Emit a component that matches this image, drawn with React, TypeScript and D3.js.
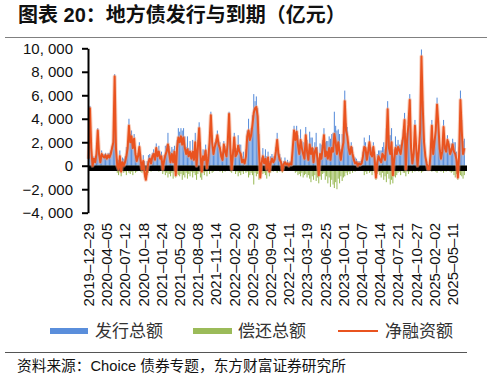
import React, { useEffect, useRef } from 'react'
import * as d3 from 'd3'

const START_WEEK = '2019-12-29'

// 净融资额 (亿元), weekly
const netFinancing = [
  600, 4900, 1500, 0, 600, 300, 1000, 3000, 1000, 300, 1000, 800, 700, 900,
  600, 900, 700, 1000, 1500, 2000, 7600, 1500, 0, -300, 800, -500, 300, 0,
  300, 800, 1500, 3400, 2000, 2500, 1500, 2300, 1000, 400, 800, 1600, 500, -300,
  400, -600, -1200, -400, 300, 600, 200, 800, 1000, 500, 1500, 800, 1200, 600,
  800, -300, 400, 900, 1200, 1800, 1000, 300, 1000, 300, 1200, -800, 1500, 2400,
  2000, 2500, 1800, 2400, 1500, 1000, 1400, 800, 1200, 600, 1200, 500, 2000, 0,
  1500, 3200, 1000, -500, 800, 500, 1300, -200, 600, 2000, 4300, 2000, 1000, 1600,
  2000, 2600, 1800, 1500, 800, 500, 1800, 1200, 800, 2000, 4400, 1500, -300, 1000,
  2400, 800, 1000, 1700, 1200, 1000, 300, 500, 200, 800, 2500, 3000, 2200, 2600,
  3500, 4500, 4900, 5000, 4200, 1500, -1000, 200, 800, 200, 600, -300, 700, -500,
  200, 600, 300, 500, 1200, 2200, 1000, 500, 300, -400, 100, 300, 100, 200,
  0, 200, 100, 1500, 3000, 2200, 2900, 1800, 1000, 2200, 1500, 1000, 600, 2600,
  1200, 500, 1800, 1000, 1500, 300, 1200, 1500, 600, -800, 1000, 600, 1500, 2600,
  800, 1200, 600, 1500, 500, 1500, 1200, 2700, 2000, 1000, 2000, 1200, 500, 1400,
  2000, 5500, 3000, 2500, 1500, 1000, 1600, 1000, 500, 200, 300, 0, 200, 100,
  200, 800, 1600, 1500, 500, 1200, 2000, 1000, 800, 1600, 600, -1000, 300, 800,
  500, 300, 1000, 800, 500, 1800, 4800, 1500, 1000, 2000, -800, 500, 1500, 1000,
  1600, 1300, 1000, 1800, 2500, 3900, -300, 2300, 3500, 5600, 1500, 200, 1000, 3400,
  1500, 0, 1300, 3000, 9300, 5000, 2000, 800, 200, -300, -300, 1000, 3400, 1000,
  2000, 3000, 5200, 3500, 1500, 600, 1200, 3300, 1500, 1200, 2200, 1800, 1000, 1300,
  1800, 1200, 1000, 500, -1000, 1000, 5600, 3000, 1000, 1500,
]

// 偿还总额 (亿元), drawn below zero
const repayment = [
  100, 200, 100, 300, 200, 100, 300, 200, 100, 200, 300, 200, 300, 200,
  300, 200, 400, 300, 200, 300, 200, 400, 600, 800, 500, 900, 400, 600,
  500, 800, 400, 600, 700, 500, 800, 400, 600, 500, 300, 400, 500, 600,
  500, 1000, 1200, 800, 600, 400, 500, 300, 400, 300, 400, 300, 500, 400,
  400, 700, 500, 800, 600, 1000, 700, 900, 600, 1100, 500, 1000, 700, 800,
  900, 700, 1200, 800, 1000, 600, 1100, 700, 900, 500, 1000, 600, 800, 1200,
  700, 500, 1000, 1200, 600, 800, 500, 900, 400, 700, 300, 600, 500, 400,
  300, 400, 300, 500, 400, 600, 300, 500, 400, 300, 200, 500, 600, 400,
  400, 700, 500, 900, 600, 800, 500, 700, 400, 600, 500, 1000, 800, 600,
  800, 1600, 600, 900, 700, 1200, 1000, 500, 700, 600, 800, 1100, 500, 900,
  600, 400, 500, 300, 400, 600, 300, 500, 400, 600, 300, 400, 200, 300,
  300, 200, 400, 300, 400, 600, 500, 800, 700, 900, 600, 1000, 800, 700,
  1000, 800, 1100, 1400, 900, 1200, 800, 1300, 1000, 1500, 900, 1200, 700, 600,
  1200, 900, 1500, 1000, 1800, 1200, 1600, 1900, 1400, 2000, 1100, 1500, 900, 1300,
  1000, 900, 600, 800, 500, 700, 400, 600, 300, 500, 300, 400, 200, 300,
  300, 400, 800, 500, 700, 400, 600, 500, 800, 400, 600, 1200, 700, 500,
  800, 1000, 600, 1200, 900, 1400, 700, 1100, 1600, 1200, 1500, 900, 1000, 800,
  600, 500, 800, 400, 600, 600, 900, 500, 700, 500, 400, 600, 300, 500,
  400, 300, 500, 400, 600, 500, 300, 400, 200, 300, 400, 300, 500, 400,
  300, 500, 600, 400, 300, 500, 400, 600, 300, 500, 400, 300, 500, 600,
  500, 800, 1000, 700, 1200, 600, 800, 900, 1100, 800,
]

// 发行总额 (亿元)
const issuance = [
  700, 5100, 1600, 300, 800, 400, 1300, 3200, 1100, 500, 1300, 1000, 1000, 1100,
  900, 1100, 1100, 1300, 1700, 2300, 7800, 1900, 600, 500, 1300, 400, 700, 600,
  800, 1600, 1900, 4000, 2700, 3000, 2300, 2700, 1600, 900, 1100, 2000, 1000, 300,
  900, 400, 0, 400, 900, 1000, 700, 1100, 1400, 800, 1900, 1100, 1700, 1000,
  1200, 400, 900, 1700, 1800, 2800, 1700, 1200, 1600, 1400, 1700, 200, 2200, 3200,
  2900, 3200, 3000, 3200, 2500, 1600, 2500, 1500, 2100, 1100, 2200, 1100, 2800, 1200,
  2200, 3700, 2000, 700, 1400, 1300, 1800, 700, 1000, 2700, 4600, 2600, 1500, 2000,
  2300, 3000, 2100, 2000, 1200, 1100, 2100, 1700, 1200, 2300, 4600, 2000, 300, 1400,
  2800, 1500, 1500, 2600, 1800, 1800, 800, 1200, 600, 1400, 3000, 4000, 3000, 3200,
  4300, 6100, 5500, 5900, 4900, 2700, 0, 700, 1500, 800, 1400, 800, 1200, 400,
  800, 1000, 800, 800, 1600, 2800, 1300, 1000, 700, 200, 400, 700, 300, 500,
  300, 400, 500, 1800, 3400, 2800, 3400, 2600, 1700, 3100, 2100, 2000, 1400, 3300,
  2200, 1300, 2900, 2400, 2400, 1500, 2000, 2800, 1600, 700, 1900, 1800, 2200, 3200,
  2000, 2100, 2100, 2500, 2300, 2700, 2800, 4600, 3400, 3000, 3100, 2700, 1400, 2700,
  3000, 6400, 3600, 3300, 2000, 1700, 2000, 1600, 800, 700, 600, 400, 400, 400,
  500, 1200, 2400, 2000, 1200, 1600, 2600, 1500, 1600, 2000, 1200, 200, 1000, 1300,
  1300, 1300, 1600, 2000, 1400, 3200, 5500, 2600, 2600, 3200, 700, 1400, 2500, 1800,
  2200, 1800, 1800, 2200, 3100, 4500, 600, 2800, 4200, 6100, 1900, 800, 1300, 3900,
  1900, 300, 1800, 3400, 9900, 5500, 2300, 1200, 400, 0, 100, 1300, 3900, 1400,
  2300, 3500, 5800, 3900, 1800, 1100, 1600, 3900, 1800, 1700, 2600, 2100, 1500, 1900,
  2300, 2000, 2000, 1200, 200, 1600, 6400, 3900, 2100, 2300,
]

const xTickLabels = [
  '2019-12-29', '2020-04-05', '2020-07-12', '2020-10-18', '2021-01-24', '2021-05-02',
  '2021-08-08', '2021-11-14', '2022-02-20', '2022-05-29', '2022-09-04', '2022-12-11',
  '2023-03-19', '2023-06-25', '2023-10-01', '2024-01-07', '2024-04-14', '2024-07-21',
  '2024-10-27', '2025-02-02', '2025-05-11',
]

const yTicks = [-4000, -2000, 0, 2000, 4000, 6000, 8000, 10000]

const BLUE = '#5a8edb'
const GREEN = '#9bbb59'
const RED = '#e9531f'
const FONT = "'Liberation Sans', Arial, 'Noto Sans CJK SC', sans-serif"

export default function App() {
  const ref = useRef<SVGSVGElement | null>(null)

  useEffect(() => {
    if (!ref.current) return
    const svg = d3.select(ref.current)
    svg.selectAll('*').remove()

    const start = d3.utcParse('%Y-%m-%d')(START_WEEK) as Date
    const weeks = netFinancing.map((_, i) => d3.timeFormat('%Y-%m-%d')(d3.utcDay.offset(start, i * 7)))

    const x = d3.scaleBand<string>().domain(weeks).range([88, 465]).paddingInner(0.2).paddingOuter(0.1)
    const y = d3.scaleLinear().domain([-4000, 10000]).range([212.7, 48.3])
    const cx = (i: number) => (x(weeks[i]) || 0) + x.bandwidth() / 2

    svg.append('rect').attr('width', 492).attr('height', 381).attr('fill', '#fff')

    // title + frame lines
    svg
      .append('text')
      .attr('x', 18)
      .attr('y', 22)
      .attr('font-family', FONT)
      .attr('font-size', 20)
      .attr('font-weight', 'bold')
      .attr('fill', '#111')
      .text('图表 20：地方债发行与到期（亿元）')
    svg.append('line').attr('x1', 5).attr('x2', 487).attr('y1', 37.5).attr('y2', 37.5).attr('stroke', '#808080').attr('stroke-width', 1.2)
    svg.append('line').attr('x1', 5).attr('x2', 467).attr('y1', 352.5).attr('y2', 352.5).attr('stroke', '#555').attr('stroke-width', 1)

    const g = svg.append('g')

    g.selectAll('rect.iss')
      .data(issuance)
      .join('rect')
      .attr('class', 'iss')
      .attr('x', (_, i) => x(weeks[i]) || 0)
      .attr('width', x.bandwidth())
      .attr('y', (d) => y(Math.max(0, d)))
      .attr('height', (d) => Math.abs(y(d) - y(0)))
      .attr('fill', BLUE)

    g.selectAll('rect.rep')
      .data(repayment)
      .join('rect')
      .attr('class', 'rep')
      .attr('x', (_, i) => x(weeks[i]) || 0)
      .attr('width', x.bandwidth())
      .attr('y', y(0))
      .attr('height', (d) => Math.abs(y(-d) - y(0)))
      .attr('fill', GREEN)

    // thick category axis line at zero
    g.append('line')
      .attr('x1', 88)
      .attr('x2', 467)
      .attr('y1', y(0) + 2.5)
      .attr('y2', y(0) + 2.5)
      .attr('stroke', '#000')
      .attr('stroke-width', 5.5)

    const line = d3
      .line<number>()
      .x((_, i) => cx(i))
      .y((d) => y(d))

    g.append('path')
      .datum(netFinancing)
      .attr('d', line)
      .attr('fill', 'none')
      .attr('stroke', '#f3a17f')
      .attr('stroke-opacity', 0.5)
      .attr('stroke-width', 4)
      .attr('stroke-linejoin', 'round')
    g.append('path')
      .datum(netFinancing)
      .attr('d', line)
      .attr('fill', 'none')
      .attr('stroke', RED)
      .attr('stroke-width', 2)
      .attr('stroke-linejoin', 'round')

    // y axis
    const yAxis = svg
      .append('g')
      .attr('transform', 'translate(88,0)')
      .call(
        d3
          .axisLeft(y)
          .tickValues(yTicks)
          .tickSize(6)
          .tickSizeOuter(0)
          .tickPadding(9)
          .tickFormat((d) => d3.format(',')(d as number).replace('-', '−').replace(',', ', '))
      )
    yAxis.select('.domain').attr('stroke', '#000').attr('stroke-width', 2)
    yAxis.selectAll('.tick line').attr('stroke', '#000').attr('stroke-width', 2)
    yAxis.selectAll('.tick text').attr('font-family', FONT).attr('font-size', 15).attr('fill', '#111')

    // x tick labels, every 14 weeks
    svg
      .append('g')
      .selectAll('text')
      .data(xTickLabels)
      .join('text')
      .attr('transform', (_, k) => `translate(${cx(k * 14)},223) rotate(-90)`)
      .attr('text-anchor', 'end')
      .attr('dy', '0.35em')
      .attr('font-family', FONT)
      .attr('font-size', 15)
      .attr('fill', '#111')
      .text((d) => d.replace(/-/g, '–'))

    // legend
    const legend = svg.append('g').attr('font-family', FONT).attr('font-size', 17).attr('fill', '#333')
    legend.append('rect').attr('x', 50).attr('y', 328).attr('width', 38).attr('height', 6).attr('fill', BLUE)
    legend.append('text').attr('x', 95).attr('y', 337).text('发行总额')
    legend.append('rect').attr('x', 193).attr('y', 328).attr('width', 39).attr('height', 6).attr('fill', GREEN)
    legend.append('text').attr('x', 238).attr('y', 337).text('偿还总额')
    legend.append('line').attr('x1', 338).attr('x2', 378).attr('y1', 331).attr('y2', 331).attr('stroke', RED).attr('stroke-width', 2)
    legend.append('text').attr('x', 385).attr('y', 337).text('净融资额')

    svg
      .append('text')
      .attr('x', 17)
      .attr('y', 371)
      .attr('font-family', FONT)
      .attr('font-size', 14.7)
      .attr('fill', '#111')
      .text('资料来源：Choice 债券专题，东方财富证券研究所')
  }, [])

  return (
    <svg
      ref={ref}
      width={492}
      height={381}
      style={{ position: 'absolute', left: 0, top: 0, display: 'block' }}
      role="img"
      aria-label="地方债发行与到期"
    />
  )
}
